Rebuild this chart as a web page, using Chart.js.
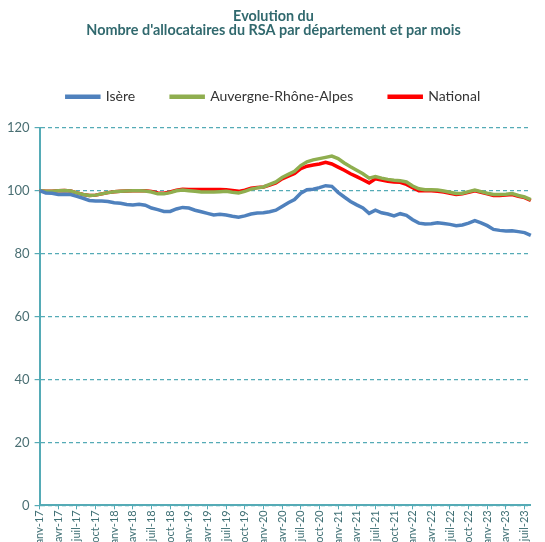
<!DOCTYPE html>
<html lang="fr">
<head>
<meta charset="utf-8">
<script src="https://cdn.jsdelivr.net/npm/chart.js@4.4.1/dist/chart.umd.min.js"></script>
<style>
    html, body { margin: 0; padding: 0; background: #fff; overflow: hidden; }
    #rsaChart { display: block; }
</style>
</head>
<body>
<canvas id="rsaChart" width="545" height="548"></canvas>
<script>
const monthNames = ['janv', 'févr', 'mars', 'avr', 'mai', 'juin', 'juil', 'août', 'sept', 'oct', 'nov', 'déc'];
const years = ['17', '18', '19', '20', '21', '22', '23'];

// indice base 100 en janvier 2017, de janv-17 à août-23
const isere = [
    100.0, 99.3, 99.2, 98.8, 98.9, 98.8, 98.2, 97.6, 96.9, 96.7, 96.7, 96.6,
    96.2, 96.0, 95.6, 95.5, 95.7, 95.4, 94.5, 94.0, 93.4, 93.4, 94.2, 94.7,
    94.5, 93.8, 93.3, 92.8, 92.3, 92.5, 92.3, 91.9, 91.6, 92.0, 92.6, 92.9,
    93.0, 93.3, 93.8, 95.0, 96.2, 97.2, 99.2, 100.3, 100.5, 101.0, 101.6, 101.4,
    99.5, 98.0, 96.6, 95.5, 94.5, 92.8, 93.8, 93.0, 92.6, 92.0, 92.7, 92.2,
    90.8, 89.7, 89.4, 89.5, 89.8, 89.6, 89.3, 88.9, 89.1, 89.7, 90.5, 89.8,
    88.9, 87.7, 87.4, 87.2, 87.3, 87.0, 86.7, 85.8
];
const auvergneRhoneAlpes = [
    100.0, 99.8, 99.8, 100.0, 100.1, 99.9, 99.3, 98.8, 98.5, 98.6, 99.0, 99.4,
    99.7, 99.8, 99.9, 100.0, 100.0, 99.9, 99.6, 99.0, 99.0, 99.4, 100.0, 100.2,
    100.0, 99.8, 99.6, 99.6, 99.6, 99.7, 99.8, 99.5, 99.3, 99.8, 100.5, 100.9,
    101.2, 102.0, 102.8, 104.2, 105.2, 106.2, 108.0, 109.2, 109.8, 110.2, 110.6, 111.0,
    110.2, 108.8, 107.6, 106.5, 105.4, 104.0, 104.5, 104.0, 103.6, 103.3, 103.2, 102.8,
    101.5, 100.6, 100.3, 100.3, 100.2, 99.9, 99.5, 99.1, 99.2, 99.7, 100.2, 99.7,
    99.2, 98.8, 98.8, 98.9, 99.1, 98.5, 98.0, 97.2
];
const national = [
    100.0, 99.8, 99.8, 100.0, 100.1, 99.9, 99.3, 98.8, 98.5, 98.6, 99.0, 99.4,
    99.7, 99.8, 99.9, 100.0, 100.0, 100.0, 99.8, 99.3, 99.2, 99.6, 100.2, 100.5,
    100.4, 100.4, 100.4, 100.4, 100.4, 100.4, 100.3, 100.1, 99.8, 100.2, 100.8, 101.0,
    101.2, 101.8, 102.5, 103.8, 104.6, 105.5, 107.0, 107.8, 108.2, 108.5, 109.0, 108.5,
    107.5, 106.5, 105.4, 104.5, 103.5, 102.5, 103.8, 103.4, 103.0, 102.8, 102.7, 102.0,
    101.0, 100.0, 100.0, 100.0, 99.8, 99.6, 99.2, 98.8, 99.0, 99.5, 100.0, 99.5,
    99.0, 98.5, 98.5, 98.6, 98.8, 98.2, 97.8, 96.9
];

const teal = '#55abb6';

function getMonthLabels(count) {
    const labels = [];
    for (let i = 0; i < count; i++) {
        labels.push(monthNames[i % 12] + '-' + years[Math.floor(i / 12)]);
    }
    return labels;
}

// more room between the legend and the plot
const legendMargin = {
    id: 'legendMargin',
    beforeInit(chart) {
        const originalFit = chart.legend.fit;
        chart.legend.fit = function fit() {
            originalFit.bind(chart.legend)();
            this.height += 14;
        };
    }
};

function renderChart() {
    const ctx = document.getElementById('rsaChart').getContext('2d');
    const labels = getMonthLabels(isere.length);

    new Chart(ctx, {
        type: 'line',
        data: {
            labels: labels,
            datasets: [
                {
                    label: 'Isère',
                    data: isere,
                    borderColor: '#4f81bd',
                    backgroundColor: '#4f81bd'
                },
                {
                    label: 'Auvergne-Rhône-Alpes',
                    data: auvergneRhoneAlpes,
                    borderColor: '#8fae4f',
                    backgroundColor: '#8fae4f'
                },
                {
                    label: 'National',
                    data: national,
                    borderColor: '#ff0000',
                    backgroundColor: '#ff0000'
                }
            ]
        },
        plugins: [legendMargin],
        options: {
            responsive: false,
            animation: false,
            elements: {
                line: { borderWidth: 3.5, tension: 0 },
                point: { radius: 0 }
            },
            layout: {
                padding: { left: 2, right: 0, top: 0, bottom: 0 }
            },
            plugins: {
                title: {
                    display: true,
                    text: ['Evolution du', "Nombre d'allocataires du RSA par département et par mois"],
                    color: '#31696e',
                    font: { family: 'Lato', size: 14.4, weight: 'bold', lineHeight: 1.0 },
                    padding: { top: 9, bottom: 16 }
                },
                legend: {
                    position: 'top',
                    labels: {
                        color: '#333333',
                        font: { family: 'Lato', size: 14 },
                        boxWidth: 32,
                        boxHeight: 1,
                        padding: 36
                    }
                },
                tooltip: { enabled: false }
            },
            scales: {
                x: {
                    offset: false,
                    grid: {
                        drawOnChartArea: false,
                        drawTicks: true,
                        tickLength: 4,
                        color: (c) => (c.index % 3 === 0 ? teal : 'transparent')
                    },
                    border: { color: teal, width: 2 },
                    ticks: {
                        autoSkip: false,
                        minRotation: 90,
                        maxRotation: 90,
                        padding: 1,
                        color: '#3f6f74',
                        font: { family: 'Lato', size: 11 },
                        callback: function (value, index) {
                            return index % 3 === 0 ? this.getLabelForValue(value) : '';
                        }
                    }
                },
                y: {
                    min: 0,
                    max: 120,
                    grid: {
                        color: teal,
                        lineWidth: 1.2,
                        tickLength: 5
                    },
                    border: { color: teal, width: 2, dash: [4, 3] },
                    ticks: {
                        stepSize: 20,
                        padding: 5,
                        color: '#4a6f73',
                        font: { family: 'Lato', size: 13 }
                    }
                }
            }
        }
    });
}

document.addEventListener('DOMContentLoaded', renderChart);
</script>
</body>
</html>
